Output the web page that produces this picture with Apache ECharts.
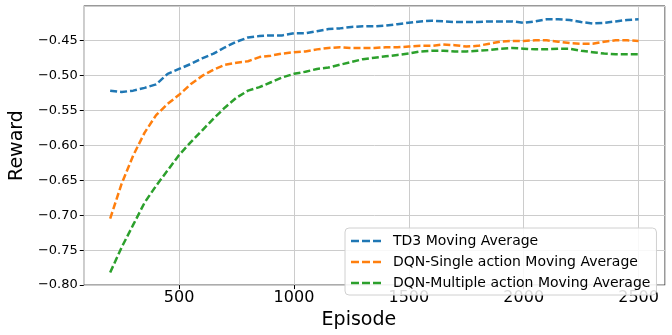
<!DOCTYPE html>
<html>
<head>
<meta charset="utf-8">
<script src="https://cdn.jsdelivr.net/npm/echarts@6/dist/echarts.min.js"></script>
<style>
  html, body { margin: 0; padding: 0; background: #fff; }
  #chart { width: 672px; height: 335px; }
</style>
</head>
<body>
<div id="chart"></div>
<script>
const episodes = [200, 250, 300, 350, 400, 450, 500, 550, 600, 650, 700, 750, 800, 850, 900, 950,
  1000, 1050, 1100, 1150, 1200, 1250, 1300, 1350, 1400, 1450, 1500, 1550, 1600, 1650, 1700, 1750,
  1800, 1850, 1900, 1950, 2000, 2050, 2100, 2150, 2200, 2250, 2300, 2350, 2400, 2450, 2500];

const td3 = [-0.522, -0.524, -0.522, -0.518, -0.513, -0.498, -0.491, -0.484, -0.476, -0.469, -0.460, -0.452,
  -0.446, -0.444, -0.443, -0.443, -0.440, -0.440, -0.437, -0.434, -0.433, -0.431, -0.430, -0.430,
  -0.429, -0.427, -0.425, -0.423, -0.422, -0.423, -0.424, -0.424, -0.424, -0.423, -0.423, -0.423,
  -0.425, -0.423, -0.420, -0.420, -0.421, -0.424, -0.426, -0.425, -0.423, -0.421, -0.420];

const dqnSingle = [-0.705, -0.655, -0.615, -0.582, -0.557, -0.541, -0.528, -0.513, -0.501, -0.492, -0.485, -0.482,
  -0.480, -0.474, -0.472, -0.469, -0.467, -0.466, -0.463, -0.461, -0.460, -0.461, -0.461, -0.461,
  -0.460, -0.460, -0.459, -0.458, -0.458, -0.456, -0.457, -0.459, -0.458, -0.455, -0.452, -0.451,
  -0.451, -0.450, -0.450, -0.452, -0.454, -0.455, -0.455, -0.452, -0.450, -0.450, -0.451];

const dqnMulti = [-0.782, -0.746, -0.714, -0.682, -0.658, -0.636, -0.614, -0.596, -0.579, -0.562, -0.546, -0.532,
  -0.522, -0.517, -0.510, -0.503, -0.498, -0.495, -0.491, -0.489, -0.485, -0.481, -0.477, -0.475,
  -0.473, -0.471, -0.469, -0.466, -0.465, -0.465, -0.466, -0.466, -0.465, -0.464, -0.462, -0.461,
  -0.462, -0.463, -0.463, -0.462, -0.462, -0.465, -0.467, -0.469, -0.470, -0.470, -0.470];

const seriesNames = ['TD3 Moving Average', 'DQN-Single action Moving Average', 'DQN-Multiple action Moving Average'];
const colors = ['#1f77b4', '#ff7f0e', '#2ca02c'];

const font = 'DejaVu Sans';
// dashed line icon for the legend entries
const dashIcon = 'path://M0,0h8v2.4h-8z M11,0h8v2.4h-8z M22,0h8v2.4h-8z';

function makeSeries(name, values, color) {
  return {
    name: name,
    type: 'line',
    data: episodes.map((e, i) => [e, values[i]]),
    symbol: 'none',
    smooth: false,
    lineStyle: { color: color, width: 2.5, type: [7, 3] },
    itemStyle: { color: color }
  };
}

const chart = echarts.init(document.getElementById('chart'));
chart.setOption({
  animation: false,
  grid: {
    left: 70, right: 7, top: 6, bottom: 33,
    show: true, borderColor: '#333', borderWidth: 1, backgroundColor: 'transparent'
  },
  legend: {
    orient: 'vertical',
    left: 345, top: 228,
    itemWidth: 30, itemHeight: 2.4, itemGap: 5,
    padding: [5, 6, 4, 6],
    backgroundColor: 'rgba(255,255,255,0.85)',
    borderColor: '#d0d0d0', borderWidth: 1, borderRadius: 4,
    textStyle: { fontFamily: font, fontSize: 14, color: '#000', padding: [0, 0, 0, 7], lineHeight: 16 },
    data: seriesNames.map(n => ({ name: n, icon: dashIcon }))
  },
  xAxis: {
    type: 'value',
    min: 85, max: 2615,
    splitNumber: 5,
    name: 'Episode',
    nameLocation: 'middle',
    nameGap: 15,
    nameTextStyle: { fontFamily: font, fontSize: 19, color: '#000', padding: [0, 31, 0, 0] },
    axisLine: { show: false },
    axisTick: { show: true, inside: false, length: 4, lineStyle: { color: '#000' } },
    axisLabel: {
      fontFamily: font, fontSize: 16, color: '#000', margin: 5, showMinLabel: false, showMaxLabel: false,
      formatter: v => String(v)
    },
    splitLine: { show: true, lineStyle: { color: '#cccccc', width: 1 } }
  },
  yAxis: {
    type: 'value',
    min: -0.8, max: -0.401,
    interval: 0.05,
    name: 'Reward',
    nameLocation: 'middle',
    nameGap: 43,
    nameTextStyle: { fontFamily: font, fontSize: 19, color: '#000' },
    axisLine: { show: false },
    axisTick: { show: true, inside: false, length: 4, lineStyle: { color: '#000' } },
    axisLabel: {
      fontFamily: font, fontSize: 13, color: '#000', margin: 6, showMaxLabel: false,
      formatter: v => v.toFixed(2).replace('-', '\u2212')
    },
    splitLine: { show: true, lineStyle: { color: '#cccccc', width: 1 } }
  },
  series: [
    makeSeries(seriesNames[0], td3, colors[0]),
    makeSeries(seriesNames[1], dqnSingle, colors[1]),
    makeSeries(seriesNames[2], dqnMulti, colors[2])
  ]
});
</script>
</body>
</html>
